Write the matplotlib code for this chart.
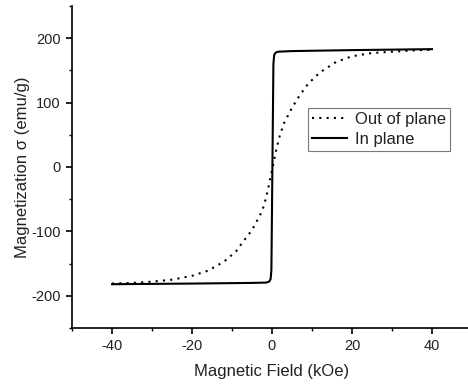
import matplotlib
matplotlib.use("Agg")
import matplotlib.pyplot as plt
from matplotlib.ticker import MultipleLocator

plt.rcParams['font.family'] = ['Liberation Sans', 'DejaVu Sans']
plt.rcParams['axes.unicode_minus'] = False

# Out of plane branch (field in kOe, magnetization in emu/g)
oop_field = [-40, -35, -30, -25, -20, -16, -12, -9, -7, -5, -3, -2, -1, 0,
             1, 2, 3, 5, 7, 9, 12, 16, 20, 25, 30, 35, 40]
oop_mag = [-181, -180, -178, -175, -169, -161, -147, -131, -114, -98, -75, -60, -35, -5,
           25, 50, 68, 92, 112, 129, 147, 163, 172, 177, 179, 181, 182]

# In plane branch
ip_field = [-40, -20, -5, -1.5, -0.7, -0.35, -0.15, 0.1, 0.35, 0.55, 0.9, 1.5, 5, 20, 40]
ip_mag = [-182, -181, -180, -179.5, -178, -174, -160, 0, 160, 174, 177.5, 179, 180, 181.5, 183]

x_ticks = [-40, -20, 0, 20, 40]
y_ticks = [-200, -100, 0, 100, 200]

fig = plt.figure(figsize=(4.68, 3.85), dpi=100)
ax = fig.add_axes([72 / 468, 1 - 328 / 385, 400 / 468, 322 / 385])

ax.plot(oop_field, oop_mag, color="black", lw=1.5, linestyle=(0, (1, 2.5)), label="Out of plane")
ax.plot(ip_field, ip_mag, color="black", lw=1.5, label="In plane")

ax.set_xlim(-50, 50)
ax.set_ylim(-250, 250)
ax.set_xticks(x_ticks)
ax.set_yticks(y_ticks)
ax.xaxis.set_minor_locator(MultipleLocator(10))
ax.yaxis.set_minor_locator(MultipleLocator(50))

for side in ["top", "right"]:
    ax.spines[side].set_visible(False)
for side in ["left", "bottom"]:
    ax.spines[side].set_linewidth(1.2)

ax.tick_params(which="major", direction="out", length=4, width=1.2, labelsize=10.5, pad=4,
               labelcolor="#222222")
ax.tick_params(which="minor", direction="out", length=2.5, width=1.0)

ax.set_xlabel("Magnetic Field (kOe)", fontsize=12, labelpad=8, color="#222222")
ax.set_ylabel("Magnetization σ (emu/g)", fontsize=12, labelpad=1, color="#222222")

leg = ax.legend(loc="upper left", bbox_to_anchor=(0.59, 0.683), borderaxespad=0,
                fontsize=12, fancybox=False, frameon=True, borderpad=0.25,
                labelspacing=0.3, handletextpad=0.45, handlelength=2.1)
leg.get_frame().set_edgecolor("#555555")
leg.get_frame().set_linewidth(0.8)
for t in leg.get_texts():
    t.set_color("#222222")

fig.savefig("out.png", dpi=100)
